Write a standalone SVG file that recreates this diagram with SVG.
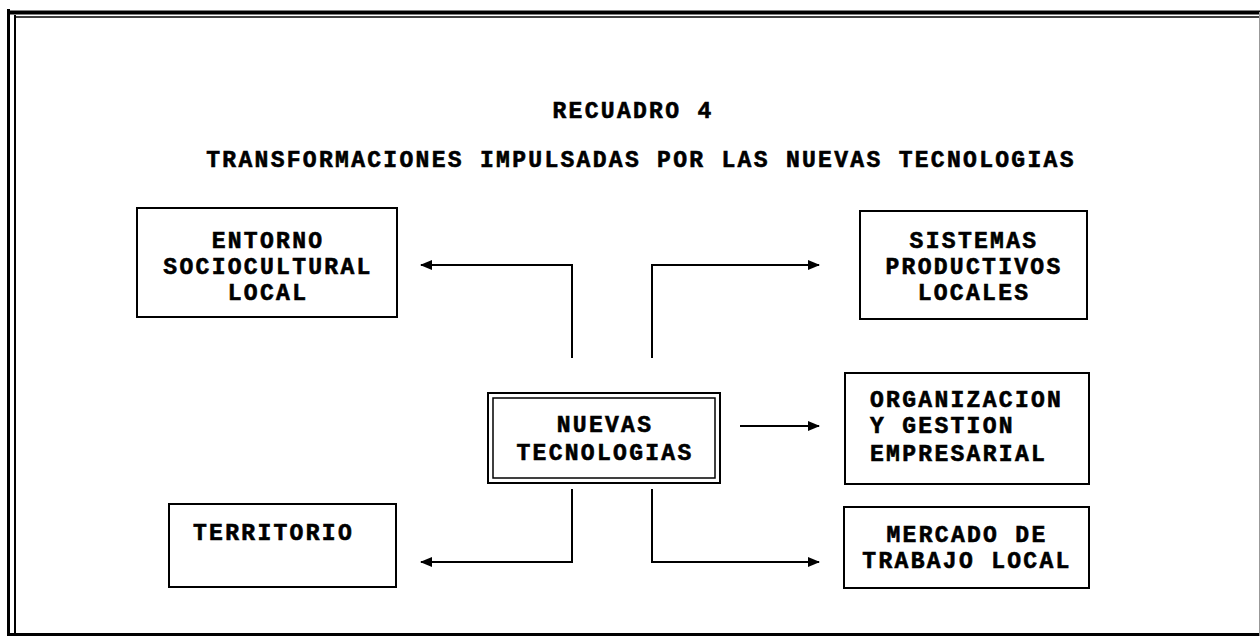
<svg xmlns="http://www.w3.org/2000/svg" width="1260" height="638" viewBox="0 0 1260 638">
<defs>
<style>
text{font-family:"Liberation Mono","Courier New",monospace;font-weight:bold;font-size:23px;letter-spacing:2.3px;fill:#000;stroke:#000;stroke-width:0.6px;}
.c{text-anchor:middle;}
.box{fill:#fff;stroke:#000;stroke-width:2;}
.ln{fill:none;stroke:#000;stroke-width:2;}
</style>
<marker id="ah" markerWidth="12" markerHeight="10" refX="11" refY="5" orient="auto" markerUnits="userSpaceOnUse">
<path d="M0,0 L12,5 L0,10 Z" fill="#000"/>
</marker>
</defs>
<rect width="1260" height="638" fill="#fff"/>
<g id="frame">
<line x1="8.5" y1="9" x2="8.5" y2="636" stroke="#000" stroke-width="3"/>
<line x1="15" y1="15" x2="15" y2="634" stroke="#000" stroke-width="2"/>
<line x1="7" y1="12.5" x2="1260" y2="12.5" stroke="#000" stroke-width="4"/>
<line x1="14" y1="17" x2="1260" y2="17" stroke="#000" stroke-width="1.5"/>
<line x1="8" y1="634.5" x2="1260" y2="634.5" stroke="#000" stroke-width="3"/>
<line x1="1259.5" y1="12" x2="1259.5" y2="636" stroke="#999" stroke-width="1"/>
</g>
<g id="title">
<text class="c" x="633" y="118">RECUADRO 4</text>
<text class="c" x="641" y="167">TRANSFORMACIONES IMPULSADAS POR LAS NUEVAS TECNOLOGIAS</text>
</g>
<g id="connectors">
<polyline class="ln" points="572,358 572,265 421,265" marker-end="url(#ah)"/>
<polyline class="ln" points="652,358 652,265 819,265" marker-end="url(#ah)"/>
<line class="ln" x1="740" y1="426" x2="819" y2="426" marker-end="url(#ah)"/>
<polyline class="ln" points="572,489 572,562 421,562" marker-end="url(#ah)"/>
<polyline class="ln" points="652,489 652,562 819,562" marker-end="url(#ah)"/>
</g>
<g id="entorno">
<rect class="box" x="137" y="208" width="260" height="109"/>
<text class="c" x="268" y="248">ENTORNO</text>
<text class="c" x="268" y="274">SOCIOCULTURAL</text>
<text class="c" x="268" y="300">LOCAL</text>
</g>
<g id="sistemas">
<rect class="box" x="860" y="211" width="227" height="108"/>
<text class="c" x="974" y="248">SISTEMAS</text>
<text class="c" x="974" y="274">PRODUCTIVOS</text>
<text class="c" x="974" y="300">LOCALES</text>
</g>
<g id="nuevas">
<rect x="488" y="393" width="232" height="90" fill="#fff" stroke="#000" stroke-width="2"/>
<rect x="493" y="398" width="222" height="80" fill="none" stroke="#000" stroke-width="1.5"/>
<text class="c" x="605" y="432">NUEVAS</text>
<text class="c" x="605" y="460">TECNOLOGIAS</text>
</g>
<g id="organizacion">
<rect class="box" x="845" y="373" width="244" height="111"/>
<text x="870" y="407">ORGANIZACION</text>
<text x="870" y="433">Y GESTION</text>
<text x="870" y="461">EMPRESARIAL</text>
</g>
<g id="territorio">
<rect class="box" x="169" y="504" width="227" height="83"/>
<text x="193" y="540">TERRITORIO</text>
</g>
<g id="mercado">
<rect class="box" x="844" y="507" width="245" height="81"/>
<text class="c" x="967" y="542">MERCADO DE</text>
<text class="c" x="967" y="568">TRABAJO LOCAL</text>
</g>
</svg>
